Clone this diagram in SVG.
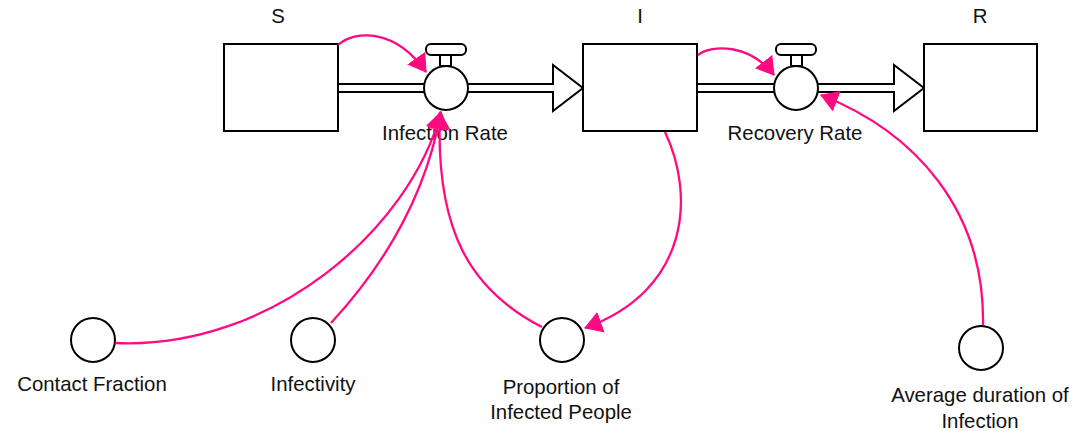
<svg xmlns="http://www.w3.org/2000/svg" width="1073" height="431" viewBox="0 0 1073 431">
  <style>
    .stock { fill: #fff; stroke: #000; stroke-width: 2; }
    .pipe { fill: #fff; stroke: #000; stroke-width: 2; stroke-linejoin: miter; }
    .valve { fill: #fff; stroke: #000; stroke-width: 2; }
    .aux { fill: #fff; stroke: #000; stroke-width: 2; }
    .link { fill: none; stroke: #ff0a80; stroke-width: 2.3; marker-end: url(#arrow); }
    text { font-family: "Liberation Sans", Arial, sans-serif; font-size: 20.4px; fill: #111; text-anchor: middle; }
  </style>
  <defs>
    <marker id="arrow" viewBox="0 0 18 22" refX="17" refY="11" markerWidth="18" markerHeight="22" markerUnits="userSpaceOnUse" orient="auto">
      <path d="M0,0 L18,11 L0,22 z" fill="#ff0a80"/>
    </marker>
  </defs>

  <!-- material flows (pipes with arrowheads) -->
  <g id="flows">
    <polygon class="pipe" points="338,84 553,84 553,65 583,88 553,111 553,92 338,92"/>
    <polygon class="pipe" points="697,84 894,84 894,65 924,88 894,111 894,92 697,92"/>
  </g>

  <!-- stocks -->
  <g id="stock-S">
    <rect class="stock" x="224" y="44" width="114" height="87"/>
    <text x="278" y="23">S</text>
  </g>
  <g id="stock-I">
    <rect class="stock" x="583" y="44" width="114" height="87"/>
    <text x="640" y="23">I</text>
  </g>
  <g id="stock-R">
    <rect class="stock" x="924" y="44" width="113" height="87"/>
    <text x="980" y="23">R</text>
  </g>

  <!-- rates (valves) -->
  <g id="rate-infection">
    <rect class="valve" x="426" y="44" width="40" height="11" rx="5"/>
    <rect class="valve" x="440" y="55" width="11" height="11"/>
    <circle class="valve" cx="446" cy="88" r="22"/>
    <text x="445" y="140">Infection Rate</text>
  </g>
  <g id="rate-recovery">
    <rect class="valve" x="776" y="44" width="40" height="11" rx="5"/>
    <rect class="valve" x="791" y="55" width="11" height="11"/>
    <circle class="valve" cx="796" cy="88" r="22"/>
    <text x="795" y="140">Recovery Rate</text>
  </g>

  <!-- auxiliaries -->
  <g id="aux-contact-fraction">
    <circle class="aux" cx="93" cy="340" r="22"/>
    <text x="92" y="391">Contact Fraction</text>
  </g>
  <g id="aux-infectivity">
    <circle class="aux" cx="313" cy="340" r="22"/>
    <text x="313" y="391">Infectivity</text>
  </g>
  <g id="aux-proportion">
    <circle class="aux" cx="562" cy="340" r="22"/>
    <text x="561" y="394">Proportion of</text>
    <text x="561" y="419">Infected People</text>
  </g>
  <g id="aux-duration">
    <circle class="aux" cx="981" cy="348" r="22"/>
    <text x="980" y="402">Average duration of</text>
    <text x="980" y="428">Infection</text>
  </g>

  <!-- causal links -->
  <g id="connectors">
    <path class="link" d="M338,45 C355,30 395,28 426,72"/>
    <path class="link" d="M698,55 C712,44 750,44 774,75"/>
    <path class="link" d="M983,325 C985,210 915,132 821,95"/>
    <path class="link" d="M665,132 C695,195 690,290 585,328"/>
    <path class="link" d="M542,327 C470,290 435,230 440,112"/>
    <path class="link" d="M116,343 C270,350 410,230 441,112"/>
    <path class="link" d="M331,323 C380,270 425,200 441,112"/>
  </g>
</svg>
